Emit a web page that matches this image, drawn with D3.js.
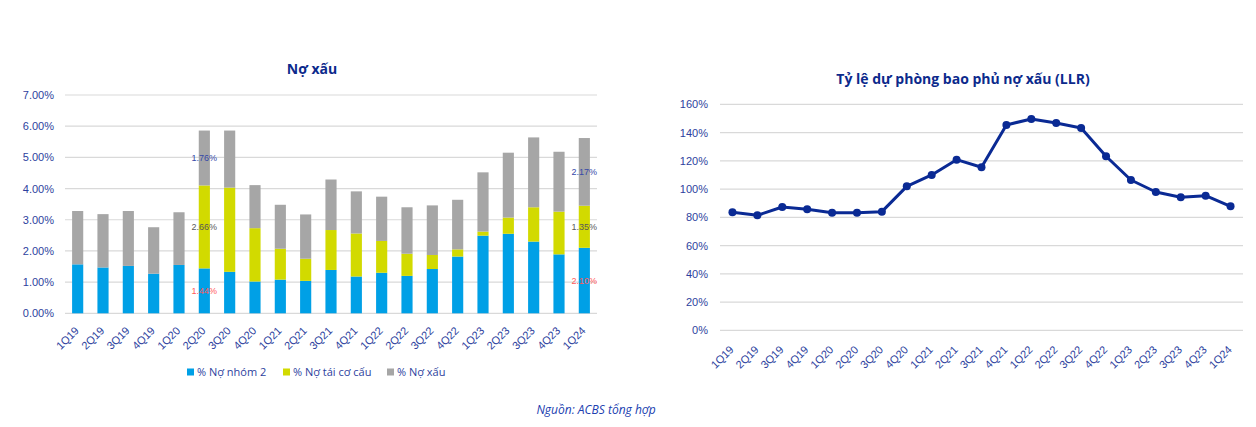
<!DOCTYPE html>
<html>
<head>
<meta charset="utf-8">
<script src="https://cdn.jsdelivr.net/npm/d3@7"></script>
<style>
  body { margin: 0; background: #fff; }
  svg { display: block; font-family: "Open Sans", "Noto Sans", sans-serif; }
</style>
</head>
<body>
<svg id="chart" width="1256" height="427"></svg>
<script>
const quarters = ["1Q19","2Q19","3Q19","4Q19","1Q20","2Q20","3Q20","4Q20","1Q21","2Q21","3Q21",
                  "4Q21","1Q22","2Q22","3Q22","4Q22","1Q23","2Q23","3Q23","4Q23","1Q24"];

// % Nợ nhóm 2
const group2 = [1.57,1.47,1.52,1.27,1.55,1.44,1.33,1.02,1.08,1.04,1.39,
                1.18,1.30,1.20,1.42,1.82,2.49,2.55,2.30,1.89,2.10];
// % Nợ tái cơ cấu
const restructured = [0,0,0,0,0,2.66,2.70,1.71,0.99,0.71,1.28,
                      1.38,1.02,0.71,0.45,0.23,0.13,0.52,1.10,1.37,1.35];
// % Nợ xấu
const npl = [1.71,1.71,1.76,1.49,1.69,1.76,1.83,1.38,1.41,1.42,1.62,
             1.35,1.42,1.49,1.59,1.59,1.90,2.08,2.24,1.92,2.17];

// LLR (%)
const llr = [83.5,81.4,87.3,85.7,83.3,83.3,84.0,101.9,110.0,120.8,115.4,
             145.4,149.6,146.8,143.2,123.2,106.4,97.9,94.2,95.3,87.8];

const seriesNames = ["% Nợ nhóm 2", "% Nợ tái cơ cấu", "% Nợ xấu"];
const seriesColors = ["#00a0e6", "#d2da00", "#a6a6a6"];
const labelColors = ["#ff5a5a", "#595959", "#3548a8"];
const labelledBars = ["2Q20", "1Q24"];

const tickColor = "#2d3f9e";
const titleColor = "#0c2a8c";
const gridColor = "#d9d9d9";

const svg = d3.select("#chart");

// ---------- Left: stacked bars ----------
const left = {x0: 65, x1: 597, y0: 313.3, y1: 95};

const rows = quarters.map((q, i) => ({q: q, s0: group2[i], s1: restructured[i], s2: npl[i]}));
const stack = d3.stack().keys(["s0", "s1", "s2"])(rows);

const xL = d3.scaleBand().domain(quarters).range([left.x0, left.x1]).paddingInner(0.56).paddingOuter(0.28);
const yL = d3.scaleLinear().domain([0, 7]).range([left.y0, left.y1]);

const gL = svg.append("g");

gL.append("g")
  .selectAll("line")
  .data(yL.ticks(7))
  .join("line")
  .attr("x1", left.x0).attr("x2", left.x1)
  .attr("y1", d => yL(d)).attr("y2", d => yL(d))
  .attr("stroke", gridColor).attr("stroke-width", 1.2);

const yAxisL = gL.append("g")
  .attr("transform", `translate(${left.x0},0)`)
  .call(d3.axisLeft(yL).ticks(7).tickSize(0).tickPadding(11).tickFormat(d => d.toFixed(2) + "%"));
yAxisL.select(".domain").remove();
yAxisL.selectAll("text").attr("fill", tickColor).style("font-size", "11px");

stack.forEach((layer, k) => {
  gL.append("g")
    .attr("fill", seriesColors[k])
    .selectAll("rect")
    .data(layer)
    .join("rect")
    .attr("x", d => xL(d.data.q))
    .attr("y", d => yL(d[1]))
    .attr("width", xL.bandwidth())
    .attr("height", d => yL(d[0]) - yL(d[1]));

  gL.append("g")
    .selectAll("text")
    .data(layer.filter(d => labelledBars.includes(d.data.q)))
    .join("text")
    .attr("x", d => xL(d.data.q) + xL.bandwidth() / 2)
    .attr("y", d => yL((d[0] + d[1]) / 2))
    .attr("dy", "0.35em")
    .attr("text-anchor", "middle")
    .attr("fill", labelColors[k])
    .style("font-family", "'Liberation Sans', Arial, sans-serif")
    .style("font-size", "9px")
    .text(d => (d[1] - d[0]).toFixed(2) + "%");
});

const xAxisL = gL.append("g")
  .attr("transform", `translate(0,${left.y0})`)
  .call(d3.axisBottom(xL).tickSize(0).tickPadding(0));
xAxisL.select(".domain").remove();
xAxisL.selectAll("text")
  .attr("fill", tickColor)
  .style("font-size", "11px")
  .attr("text-anchor", "end")
  .attr("dy", 0)
  .attr("transform", "translate(2,18) rotate(-45)");

gL.append("text")
  .attr("x", 312).attr("y", 74)
  .attr("text-anchor", "middle")
  .attr("fill", titleColor)
  .style("font-size", "14px").style("font-weight", "bold")
  .text("Nợ xấu");

// legend
const legendX = [187, 283, 387];
const legend = gL.append("g")
  .selectAll("g")
  .data(seriesNames)
  .join("g")
  .attr("transform", (d, i) => `translate(${legendX[i]},372)`);
legend.append("rect")
  .attr("x", 0).attr("y", -3.5).attr("width", 7).attr("height", 7)
  .attr("fill", (d, i) => seriesColors[i]);
legend.append("text")
  .attr("x", 10).attr("y", 0).attr("dy", "0.35em")
  .attr("fill", tickColor)
  .style("font-size", "11px")
  .text(d => d);

// ---------- Right: LLR line ----------
const right = {x0: 720, x1: 1243, y0: 330.3, y1: 104.3};

const xR = d3.scaleBand().domain(quarters).range([right.x0, right.x1]);
const yR = d3.scaleLinear().domain([0, 160]).range([right.y0, right.y1]);

const gR = svg.append("g");

gR.append("g")
  .selectAll("line")
  .data(yR.ticks(8))
  .join("line")
  .attr("x1", right.x0).attr("x2", right.x1)
  .attr("y1", d => yR(d)).attr("y2", d => yR(d))
  .attr("stroke", gridColor).attr("stroke-width", 1.2);

const yAxisR = gR.append("g")
  .attr("transform", `translate(${right.x0},0)`)
  .call(d3.axisLeft(yR).ticks(8).tickSize(0).tickPadding(12).tickFormat(d => d + "%"));
yAxisR.select(".domain").remove();
yAxisR.selectAll("text").attr("fill", tickColor).style("font-size", "11px");

const xAxisR = gR.append("g")
  .attr("transform", `translate(0,${right.y0})`)
  .call(d3.axisBottom(xR).tickSize(0).tickPadding(0));
xAxisR.select(".domain").remove();
xAxisR.selectAll("text")
  .attr("fill", tickColor)
  .style("font-size", "11px")
  .attr("text-anchor", "end")
  .attr("dy", 0)
  .attr("transform", "translate(2,20) rotate(-45)");

const cx = (d, i) => xR(quarters[i]) + xR.bandwidth() / 2;

gR.append("path")
  .datum(llr)
  .attr("fill", "none")
  .attr("stroke", "#0a2a94")
  .attr("stroke-width", 3)
  .attr("stroke-linejoin", "round")
  .attr("d", d3.line().x(cx).y(d => yR(d)));

gR.append("g")
  .selectAll("circle")
  .data(llr)
  .join("circle")
  .attr("cx", cx)
  .attr("cy", d => yR(d))
  .attr("r", 4)
  .attr("fill", "#0a2a94");

gR.append("text")
  .attr("x", 963).attr("y", 84)
  .attr("text-anchor", "middle")
  .attr("fill", titleColor)
  .style("font-size", "14px").style("font-weight", "bold")
  .text("Tỷ lệ dự phòng bao phủ nợ xấu (LLR)");

// source
svg.append("text")
  .attr("x", 596).attr("y", 414)
  .attr("text-anchor", "middle")
  .attr("fill", "#2040b0")
  .style("font-size", "12px").style("font-style", "italic")
  .text("Nguồn: ACBS tổng hợp");
</script>
</body>
</html>
